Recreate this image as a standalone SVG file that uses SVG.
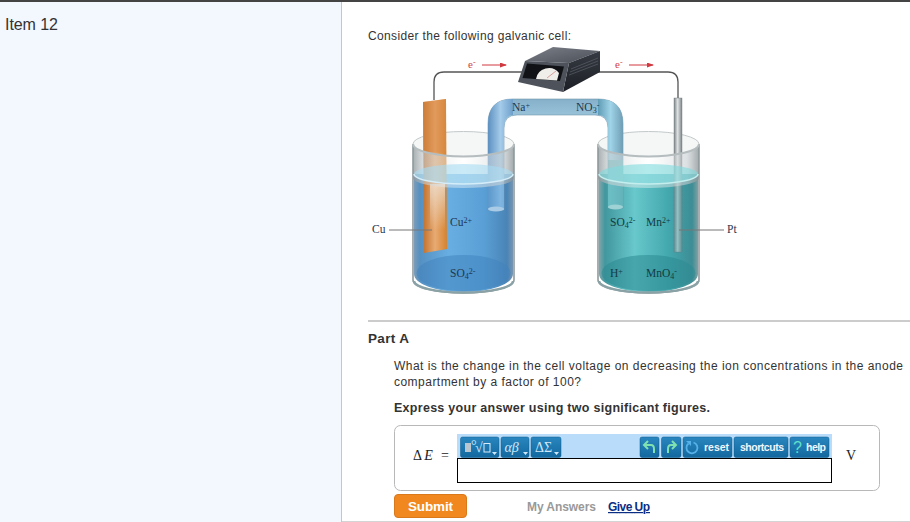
<svg xmlns="http://www.w3.org/2000/svg" width="910" height="522" viewBox="0 0 910 522">
<style>
.ui{font-family:"Liberation Sans",Arial,sans-serif;fill:#333}
.b{font-weight:700}
.lab{font-family:"Liberation Serif","Times New Roman",serif;font-size:11.500px;fill:#1f3850}
.lab2{font-family:"Liberation Serif","Times New Roman",serif;font-size:11.500px;fill:#123c44}
.sup{font-size:8px}
.e{font-family:"Liberation Serif",serif;font-size:11px;fill:#d0464a}
.wire{fill:none;stroke:#555;stroke-width:1.3}
.lead{fill:none;stroke:#777;stroke-width:1}
.red{fill:none;stroke:#d0393f;stroke-width:1;marker-end:url(#ah)}
.btn{fill:url(#btn);stroke:#0d5c8c;stroke-width:.5}
.bt{font-family:"Liberation Sans",sans-serif;font-size:10.500px;font-weight:700;fill:#eef7fd}
.bs{font-family:"Liberation Serif",serif;font-size:14px;fill:#cfe8fa}
.dn{fill:#cfe6f8}
.grn{fill:none;stroke:#7fe0b0;stroke-width:2}
</style>
<defs>
<marker id="ah" markerWidth="7" markerHeight="5" refX="6" refY="2.500" orient="auto" markerUnits="userSpaceOnUse"><path d="M0 0L7 2.500L0 5z" fill="#d0393f"/></marker>
<linearGradient id="btn" x1="0" y1="0" x2="0" y2="1"><stop offset="0" stop-color="#2a86bf"/><stop offset="1" stop-color="#12689f"/></linearGradient>
<linearGradient id="cu" x1="0" y1="0" x2="1" y2="0"><stop offset="0" stop-color="#c0702a"/><stop offset=".5" stop-color="#e8ab73"/><stop offset="1" stop-color="#d5832f"/></linearGradient>
<linearGradient id="hi" x1="0" y1="0" x2="0" y2="1"><stop offset="0" stop-color="#eee6dc" stop-opacity=".75"/><stop offset="1" stop-color="#eee6dc" stop-opacity="0"/></linearGradient>
<linearGradient id="pt" x1="0" y1="0" x2="1" y2="0"><stop offset="0" stop-color="#7d8588"/><stop offset=".45" stop-color="#dfe2e3"/><stop offset="1" stop-color="#7c8487"/></linearGradient>
<linearGradient id="bl" x1="0" y1="0" x2="1" y2="0"><stop offset="0" stop-color="#7b9cb8"/><stop offset=".06" stop-color="#5590c2"/><stop offset=".35" stop-color="#68aee2"/><stop offset=".7" stop-color="#5aa0d6"/><stop offset=".94" stop-color="#4a84b6"/><stop offset="1" stop-color="#7896b0"/></linearGradient>
<linearGradient id="tl" x1="0" y1="0" x2="1" y2="0"><stop offset="0" stop-color="#80a6aa"/><stop offset=".06" stop-color="#41979e"/><stop offset=".36" stop-color="#68c8cb"/><stop offset=".7" stop-color="#43a8ae"/><stop offset=".94" stop-color="#3d8d95"/><stop offset="1" stop-color="#7ea0a3"/></linearGradient>
<linearGradient id="gl" x1="0" y1="0" x2="1" y2="0"><stop offset="0" stop-color="#8b9497"/><stop offset=".12" stop-color="#c9cfd1" stop-opacity=".8"/><stop offset=".5" stop-color="#fff" stop-opacity=".5"/><stop offset=".88" stop-color="#c6cccf" stop-opacity=".8"/><stop offset="1" stop-color="#838d90"/></linearGradient>
<linearGradient id="tube" x1="0" y1="0" x2="1" y2="0"><stop offset="0" stop-color="#5d90c0"/><stop offset=".5" stop-color="#a4cbe9"/><stop offset="1" stop-color="#6e9fcb"/></linearGradient>
<linearGradient id="tubeh" x1="0" y1="0" x2="0" y2="1"><stop offset="0" stop-color="#86b0ca"/><stop offset=".4" stop-color="#b9e2f1"/><stop offset="1" stop-color="#86b0c6"/></linearGradient>
<linearGradient id="tubem" x1="0" y1="0" x2="1" y2="0"><stop offset="0" stop-color="#5f9cb5"/><stop offset=".5" stop-color="#a0d4e8"/><stop offset="1" stop-color="#6f9eb4"/></linearGradient>
<linearGradient id="side" x1="0" y1="0" x2="0" y2="1"><stop offset="0" stop-color="#363a42"/><stop offset="1" stop-color="#1c1f25"/></linearGradient>
<linearGradient id="top" x1="0" y1="0" x2="1" y2="1"><stop offset="0" stop-color="#7c8089"/><stop offset="1" stop-color="#4a4e57"/></linearGradient>
</defs>

<rect width="910" height="522" fill="#fff"/>
<g id="sidebar">
<rect x="0" y="0" width="341" height="522" fill="#f3f7fe"/>
<rect x="341" y="0" width="1" height="522" fill="#c4c6ca"/>
<rect x="0" y="0" width="910" height="2" fill="#444"/>
<text class="ui" x="5" y="30" font-size="16" textLength="53">Item 12</text>
</g>
<text class="ui" x="368" y="40" font-size="12" textLength="203">Consider the following galvanic cell:</text>

<g id="connectors">
<path class="wire" d="M434 100V82Q434 72 444 72H525"/>
<path class="wire" d="M595 72H668Q678 72 678 82V98"/>
<path class="red" d="M482 65H506"/>
<path class="red" d="M629 65H653"/>
</g>

<g id="left-beaker">
<ellipse cx="463.500" cy="144" rx="50.500" ry="12.500" fill="#f5f7f7" stroke="#c3c9ca"/>
<path d="M414 174V274A49.500 18 0 0 0 513 274V174z" fill="url(#bl)"/>
<ellipse cx="463.500" cy="273" rx="47" ry="18" fill="#3f82bd" opacity=".5"/>
</g>
<g id="right-beaker">
<ellipse cx="648.500" cy="144" rx="50.500" ry="12.500" fill="#f5f7f7" stroke="#c3c9ca"/>
<path d="M599 174V274A49.500 18 0 0 0 698 274V174z" fill="url(#tl)"/>
<ellipse cx="648.500" cy="273" rx="47" ry="18" fill="#2b8a92" opacity=".55"/>
</g>

<g id="copper-electrode">
<path d="M423 102L446 99L447 249L424 253z" fill="url(#cu)"/>
<path d="M423 102L446 99L446 153L423 152z" fill="#d98a45" opacity=".5"/>
<rect x="430" y="184" width="15" height="46" fill="url(#hi)"/>
</g>
<g id="platinum-electrode">
<rect x="674" y="98" width="8" height="154" fill="url(#pt)" stroke="#6f7779" stroke-width=".4"/>
<rect x="674" y="182" width="8" height="70" fill="#3b9aa0" opacity=".45"/>
</g>

<g id="salt-bridge">
<path d="M488 210V124Q488 99 513 99H598Q623 99 623 124V208H608V128Q608 115 595 115H517Q504 115 504 128V210z" fill="url(#tubeh)" stroke="#6f94ad" stroke-width=".6"/>
<path d="M488 210V124Q488 99 513 99V115Q504 115 504 128V210z" fill="url(#tube)"/>
<path d="M623 208V124Q623 99 598 99V115Q608 115 608 128V208z" fill="url(#tubem)"/>
<rect x="488" y="182" width="16" height="28" fill="#5aa0d8" opacity=".5"/>
<rect x="608" y="160" width="15" height="48" fill="#5fb8bc" opacity=".8"/>
<ellipse cx="496" cy="209" rx="8" ry="2.500" fill="#a9cbe6"/>
<ellipse cx="615.500" cy="207" rx="7.500" ry="2.500" fill="#9ed2d4"/>
</g>

<g id="left-glass">
<path d="M413 144A50.500 12.500 0 0 0 514 144V178A50.500 10 0 0 1 413 178z" fill="url(#gl)" opacity=".75"/>
<path d="M413 144V280A50.500 13 0 0 0 514 280V144" fill="none" stroke="#8f9a9d" stroke-width="1.600"/>
<path d="M413 144A50.500 12.500 0 0 0 514 144" fill="none" stroke="#b5bdbf" stroke-width="2"/>
<ellipse cx="463.500" cy="174" rx="49.500" ry="10" fill="#a9dcf4" opacity=".6"/>
<path d="M414 174A49.500 10 0 0 0 513 174" fill="none" stroke="#d4edf8" stroke-width="1.500"/>
<path d="M414 281A49.500 11.500 0 0 0 513 281" fill="none" stroke="#8aa2a6" stroke-width="2.500"/>
</g>
<g id="right-glass">
<path d="M598 144A50.500 12.500 0 0 0 699 144V178A50.500 10 0 0 1 598 178z" fill="url(#gl)" opacity=".75"/>
<path d="M598 144V280A50.500 13 0 0 0 699 280V144" fill="none" stroke="#8f9a9d" stroke-width="1.600"/>
<path d="M598 144A50.500 12.500 0 0 0 699 144" fill="none" stroke="#b5bdbf" stroke-width="2"/>
<ellipse cx="648.500" cy="174" rx="49.500" ry="10" fill="#7fdade" opacity=".6"/>
<path d="M599 174A49.500 10 0 0 0 698 174" fill="none" stroke="#c4eeee" stroke-width="1.500"/>
<path d="M599 281A49.500 11.500 0 0 0 698 281" fill="none" stroke="#8aa2a6" stroke-width="2.500"/>
</g>

<g id="leads">
<path class="lead" d="M389 230H432"/>
<path class="lead" d="M679 230H724"/>
</g>

<g id="voltmeter">
<path d="M525 61L553 47L600 51L569 63z" fill="url(#top)"/>
<path d="M569 63L600 51V72L563 92z" fill="url(#side)"/>
<path d="M571 69L598 58M570 72L598 61M569 75L598 64" stroke="#5a5f67" stroke-width=".7"/>
<path d="M525 61L569 63L563 92L518 82z" fill="#4e535b"/>
<path d="M527 63.500L564 66.500L560 81L522.500 78z" fill="#101216"/>
<path d="M536 79A13 13 0 0 1 559 73L557 80.500z" fill="#f0eee9"/>
<path d="M547 78L556 71" stroke="#c66" stroke-width=".6"/>
</g>

<g id="labels">
<text class="lab" x="372" y="233">Cu</text>
<text class="lab" x="727" y="233">Pt</text>
<text class="lab" x="512" y="111">Na<tspan class="sup" dy="-3">+</tspan></text>
<text class="lab" x="576" y="111">NO<tspan class="sup" dy="2">3</tspan><tspan class="sup" dy="-5">-</tspan></text>
<text class="lab" x="450" y="226">Cu<tspan class="sup" dy="-3">2+</tspan></text>
<text class="lab" x="450" y="277">SO<tspan class="sup" dy="2">4</tspan><tspan class="sup" dy="-5">2-</tspan></text>
<text class="lab2" x="610" y="226">SO<tspan class="sup" dy="2">4</tspan><tspan class="sup" dy="-5">2-</tspan></text>
<text class="lab2" x="646" y="226">Mn<tspan class="sup" dy="-3">2+</tspan></text>
<text class="lab2" x="610" y="277">H<tspan class="sup" dy="-3">+</tspan></text>
<text class="lab2" x="646" y="277">MnO<tspan class="sup" dy="2">4</tspan><tspan class="sup" dy="-5">-</tspan></text>
<text class="e" x="468" y="68">e<tspan class="sup" dy="-3">-</tspan></text>
<text class="e" x="615" y="68">e<tspan class="sup" dy="-3">-</tspan></text>
</g>

<rect x="368" y="320" width="542" height="2" fill="#ccc"/>
<text class="ui b" x="368" y="343" font-size="13.500" textLength="41">Part A</text>
<text class="ui" x="394" y="370" font-size="12" textLength="509">What is the change in the cell voltage on decreasing the ion concentrations in the anode</text>
<text class="ui" x="394" y="386" font-size="12" textLength="187">compartment by a factor of 100?</text>
<text class="ui b" x="394" y="412" font-size="12.500" textLength="316">Express your answer using two significant figures.</text>

<g id="answer-box">
<rect x="394.500" y="425.500" width="485" height="65" rx="6" fill="#fff" stroke="#b8b8b8"/>
<text x="413" y="460" font-family="Liberation Serif,serif" font-size="14" fill="#222" textLength="36">Δ<tspan font-style="italic">E</tspan> =</text>
<rect x="457" y="434" width="375" height="24" fill="#b9dcfa"/>
<rect x="457.500" y="458.500" width="374" height="24" fill="#fff" stroke="#000"/>
<text x="846" y="460" font-family="Liberation Serif,serif" font-size="14" fill="#222">V</text>
</g>
<g id="toolbar">
<rect class="btn" x="460.500" y="437" width="38.500" height="20.500" rx="2"/>
<rect class="btn" x="501" y="437" width="28" height="20.500" rx="2"/>
<rect class="btn" x="531" y="437" width="30" height="20.500" rx="2"/>
<rect class="btn" x="640" y="437" width="19" height="20.500" rx="2"/>
<rect class="btn" x="661.500" y="437" width="19.500" height="20.500" rx="2"/>
<rect class="btn" x="683" y="437" width="49" height="20.500" rx="2"/>
<rect class="btn" x="734" y="437" width="54" height="20.500" rx="2"/>
<rect class="btn" x="790" y="437" width="39" height="20.500" rx="2"/>
<rect x="465" y="443" width="6" height="9" fill="#b9c6d0"/>
<text class="bs" x="471" y="450" font-size="9">°</text>
<text class="bs" x="475" y="452">√</text>
<rect x="484" y="443.500" width="6" height="8.500" fill="none" stroke="#d6ebfa"/>
<text class="bs" x="504.500" y="452" font-style="italic">αβ</text>
<text class="bs" x="535" y="452">ΔΣ</text>
<path class="dn" d="M492 452h5l-2.500 3zM523 452h5l-2.500 3zM554 452h5l-2.500 3z"/>
<path class="grn" d="M645 445h6q3 0 3 4v4M648 441l-4 4 4 4"/>
<path class="grn" d="M676 445h-5q-3 0-3 4v4M672 441l4 4-4 4"/>
<path d="M693.500 442.500a5.500 5.500 0 1 1-5 1" fill="none" stroke="#56b0ea" stroke-width="1.800"/>
<path d="M686 441h5v5z" fill="#56b0ea"/>
<text class="bt" x="704" y="451" textLength="25">reset</text>
<text class="bt" x="740" y="451" textLength="44">shortcuts</text>
<text x="793" y="453" font-family="Liberation Sans,sans-serif" font-size="16" fill="#5fe0c8">?</text>
<text class="bt" x="806" y="451" textLength="20">help</text>
</g>
<g id="actions">
<rect x="394.500" y="494.500" width="72" height="23" rx="3.500" fill="#f0881f" stroke="#d9791a"/>
<text x="408" y="511" font-family="Liberation Sans,sans-serif" font-weight="700" font-size="13.500" fill="#fff" textLength="45">Submit</text>
<text class="b" x="527" y="511" font-family="Liberation Sans,sans-serif" font-size="12" fill="#999" textLength="69">My Answers</text>
<text class="b" x="608" y="511" font-family="Liberation Sans,sans-serif" font-size="12" fill="#0b2e85" text-decoration="underline" textLength="42">Give Up</text>
</g>
<rect x="342" y="521" width="568" height="1" fill="#d4d4d4"/>
</svg>
